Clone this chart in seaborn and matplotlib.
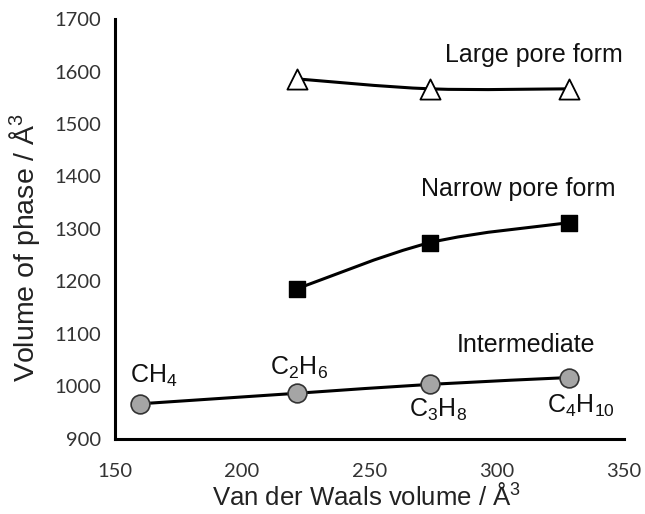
import numpy as np
import pandas as pd
import matplotlib
matplotlib.use("Agg")
import matplotlib.pyplot as plt
from matplotlib.path import Path
from matplotlib.patches import PathPatch
import seaborn as sns

# ---- data ----
large_x = [221.5, 274.0, 328.5]
large_y = [1586, 1567, 1567]
narrow_x = [221.5, 274.0, 328.5]
narrow_y = [1186, 1274, 1312]
inter_x = [160.0, 221.5, 274.0, 328.5]
inter_y = [967, 987, 1004, 1017]
gas_labels = [r"CH$_4$", r"C$_2$H$_6$", r"C$_3$H$_8$", r"C$_4$H$_{10}$"]
series_names = ["Large pore form", "Narrow pore form", "Intermediate"]

sns.set_style("white")
plt.rcParams["font.family"] = ["Liberation Sans", "DejaVu Sans"]
plt.rcParams["mathtext.fontset"] = "custom"
plt.rcParams["mathtext.rm"] = "Liberation Sans"
plt.rcParams["mathtext.it"] = "Liberation Sans"

fig = plt.figure(figsize=(6.45, 5.14), dpi=100)
ax = fig.add_axes([0.178, 0.146, 0.789, 0.817])


def smooth_path(xs, ys):
    pts = np.column_stack([xs, ys]).astype(float)
    n = len(pts)
    verts = [pts[0]]
    codes = [Path.MOVETO]
    for i in range(n - 1):
        p0 = pts[i - 1] if i > 0 else pts[i]
        p1 = pts[i]
        p2 = pts[i + 1]
        p3 = pts[i + 2] if i + 2 < n else pts[i + 1]
        c1 = p1 + (p2 - p0) / 6.0
        c2 = p2 - (p3 - p1) / 6.0
        verts += [c1, c2, p2]
        codes += [Path.CURVE4] * 3
    return Path(verts, codes)


for xs, ys in [(large_x, large_y), (narrow_x, narrow_y), (inter_x, inter_y)]:
    ax.add_patch(PathPatch(smooth_path(xs, ys), fill=False, lw=2.2,
                           edgecolor="black", zorder=2))

df_l = pd.DataFrame({"x": large_x, "y": large_y})
df_n = pd.DataFrame({"x": narrow_x, "y": narrow_y})
df_i = pd.DataFrame({"x": inter_x, "y": inter_y})
sns.scatterplot(data=df_l, x="x", y="y", marker="^", s=14.5**2, color="white",
                edgecolor="black", linewidth=1.3, ax=ax, zorder=3)
sns.scatterplot(data=df_n, x="x", y="y", marker="s", s=12**2, color="black",
                edgecolor="black", linewidth=1.0, ax=ax, zorder=3)
sns.scatterplot(data=df_i, x="x", y="y", marker="o", s=13.5**2, color="#a5a5a5",
                edgecolor="#333333", linewidth=1.2, ax=ax, zorder=3)

ax.set_xlim(150, 350)
ax.set_ylim(900, 1700)
ax.set_xticks(np.arange(150, 351, 50))
ax.set_yticks(np.arange(900, 1701, 100))
for s in ["top", "right"]:
    ax.spines[s].set_visible(False)
for s in ["left", "bottom"]:
    ax.spines[s].set_linewidth(2.2)
    ax.spines[s].set_color("black")
ax.tick_params(axis="both", direction="out", length=5, width=2, color="black",
               labelsize=14.5, pad=5)
ax.tick_params(axis="x", pad=12)
for lab in ax.get_xticklabels() + ax.get_yticklabels():
    lab.set_fontfamily("Lato")
    lab.set_color("#333333")

ax.set_xlabel("Van der Waals volume / Å$^3$", fontsize=18.5, color="#222222")
ax.set_ylabel("Volume of phase / Å$^3$", fontsize=20.5, color="#222222")
ax.xaxis.set_label_coords(0.495, -0.137)
ax.yaxis.set_label_coords(-0.177, 0.455)
ax.yaxis.label.set_va("center")
ax.xaxis.label.set_va("center")

ax.text(314.5, 1631, series_names[0], fontsize=18, ha="center", va="center", color="#111111")
ax.text(308.5, 1376, series_names[1], fontsize=18, ha="center", va="center", color="#111111")
ax.text(311.5, 1079, series_names[2], fontsize=18, ha="center", va="center", color="#111111")

label_pos = [(156.0, 1007), (211.0, 1022), (265.5, 942), (319.7, 950)]
for (lx, ly), t in zip(label_pos, gas_labels):
    ax.text(lx, ly, t, fontsize=18, ha="left", va="baseline", color="#111111")

fig.savefig("out.png", dpi=100)
